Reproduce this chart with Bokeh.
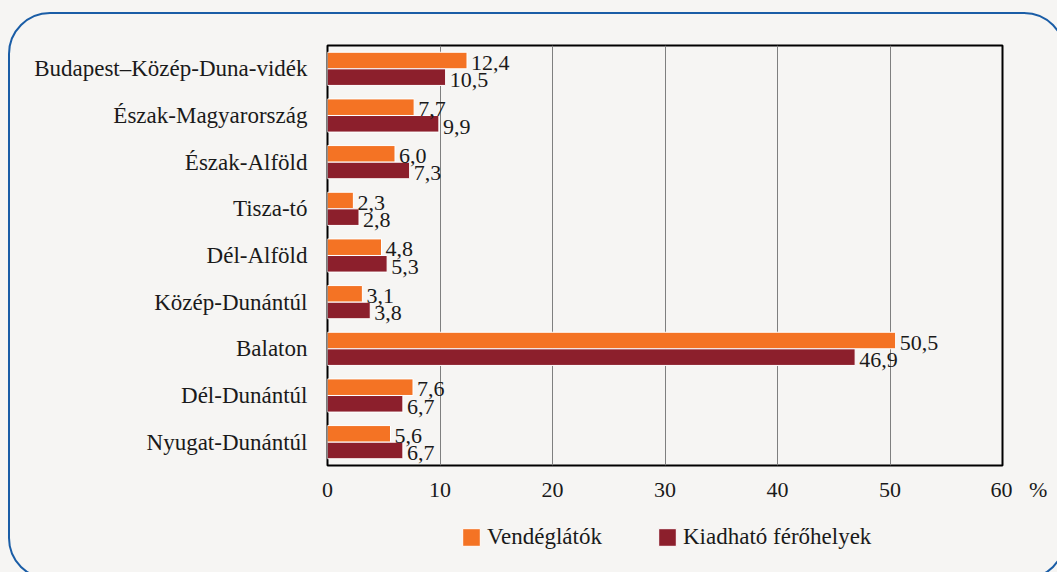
from bokeh.plotting import figure
from bokeh.layouts import column
from bokeh.models import (FactorRange, Range1d, Legend, LegendItem,
                          FixedTicker, ColumnDataSource)
from bokeh.transform import dodge
from bokeh.core.properties import value
from bokeh.embed import file_html
from bokeh.resources import INLINE

categories = ["Budapest–Közép-Duna-vidék", "Észak-Magyarország", "Észak-Alföld",
              "Tisza-tó", "Dél-Alföld", "Közép-Dunántúl", "Balaton",
              "Dél-Dunántúl", "Nyugat-Dunántúl"]
vendeglatok = [12.4, 7.7, 6.0, 2.3, 4.8, 3.1, 50.5, 7.6, 5.6]
ferohelyek = [10.5, 9.9, 7.3, 2.8, 5.3, 3.8, 46.9, 6.7, 6.7]
x_ticks = [0, 10, 20, 30, 40, 50, 60]
unit_label = "%"
series_names = ["Vendéglátók", "Kiadható férőhelyek"]
colors = ["#F47324", "#8C1F2C"]

FONT = "Liberation Serif"
BG = "#f6f5f3"
TXT = "#1a1a1a"
NB = "\u00a0"
W = 1057

def fmt(v):
    return f"{v:.1f}".replace(".", ",")

src = ColumnDataSource(dict(
    cat=categories,
    v1=vendeglatok, v2=ferohelyek,
    l1=[fmt(v) for v in vendeglatok], l2=[fmt(v) for v in ferohelyek],
))

# ---------------- main chart ----------------
p = figure(width=W, height=510,
           y_range=FactorRange(*reversed(categories)),
           x_range=Range1d(x_ticks[0], x_ticks[-1]),
           output_backend="svg", toolbar_location=None,
           min_border_left=327, min_border_right=55,
           min_border_top=45, min_border_bottom=45)

p.background_fill_color = BG
p.border_fill_color = BG
p.outline_line_color = "black"
p.outline_line_width = 2

bh = 0.355
bar_kw = dict(source=src, line_color="white", line_width=1, height=bh, left=0)
p.hbar(y=dodge("cat", 0.178, range=p.y_range), right="v1",
       fill_color=colors[0], **bar_kw)
p.hbar(y=dodge("cat", -0.178, range=p.y_range), right="v2",
       fill_color=colors[1], **bar_kw)

txt_kw = dict(source=src, x_offset=4, text_baseline="middle", text_align="left",
              text_font=value(FONT), text_font_size="22px", text_color=TXT)
p.text(x="v1", y=dodge("cat", 0.178, range=p.y_range), text="l1", y_offset=2, **txt_kw)
p.text(x="v2", y=dodge("cat", -0.178, range=p.y_range), text="l2", y_offset=3, **txt_kw)

# axes
p.xaxis.ticker = FixedTicker(ticks=x_ticks)
last = x_ticks[-1]
p.xaxis.major_label_overrides = {last: NB * 6 + str(last) + NB * 3 + unit_label}
p.xaxis.axis_line_color = None
p.xaxis.major_tick_line_color = None
p.xaxis.minor_tick_line_color = None
p.xaxis.major_label_standoff = 5
p.xaxis.major_label_text_font = FONT
p.xaxis.major_label_text_font_size = "22px"
p.xaxis.major_label_text_color = TXT

p.yaxis.axis_line_color = None
p.yaxis.major_tick_line_color = None
p.yaxis.minor_tick_line_color = None
p.yaxis.major_label_standoff = 14
p.yaxis.major_label_text_font = FONT
p.yaxis.major_label_text_font_size = "23px"
p.yaxis.major_label_text_color = TXT

p.xgrid.ticker = FixedTicker(ticks=x_ticks)
p.xgrid.grid_line_color = "#7f7f7f"
p.xgrid.grid_line_width = 1
p.ygrid.grid_line_color = None

# ---------------- legend strip ----------------
lg = figure(width=W, height=62, x_range=Range1d(1000, 1001),
            y_range=FactorRange(*reversed(categories)),
            output_backend="svg", toolbar_location=None,
            min_border=0, min_border_left=0, min_border_right=0,
            min_border_top=0, min_border_bottom=0)
lg.axis.visible = False
lg.grid.visible = False
lg.outline_line_color = None
lg.background_fill_color = BG
lg.border_fill_color = BG
q1 = lg.hbar(y="cat", right="v1", fill_color=colors[0], visible=False, **bar_kw)
q2 = lg.hbar(y="cat", right="v2", fill_color=colors[1], visible=False, **bar_kw)

legend = Legend(items=[LegendItem(label=series_names[0], renderers=[q1]),
                       LegendItem(label=series_names[1], renderers=[q2])],
                orientation="horizontal", location=(133, 22),
                glyph_width=22, glyph_height=22, label_standoff=5, spacing=54,
                label_text_font=FONT, label_text_font_size="23px",
                label_text_color=TXT, background_fill_alpha=0,
                border_line_color=None, margin=0, padding=6)
lg.add_layout(legend, "center")

layout = column(p, lg, spacing=0)

html = file_html(layout, INLINE)
css = ("<style>html,body{background:%s;}"
       "body::after{content:'';position:fixed;left:8px;top:12px;width:1058px;"
       "height:568px;border:2px solid #1a5da6;border-radius:42px;"
       "box-sizing:border-box;pointer-events:none;z-index:10;}</style></head>") % BG
html = html.replace("</head>", css, 1)
open("out.html", "w").write(html)
